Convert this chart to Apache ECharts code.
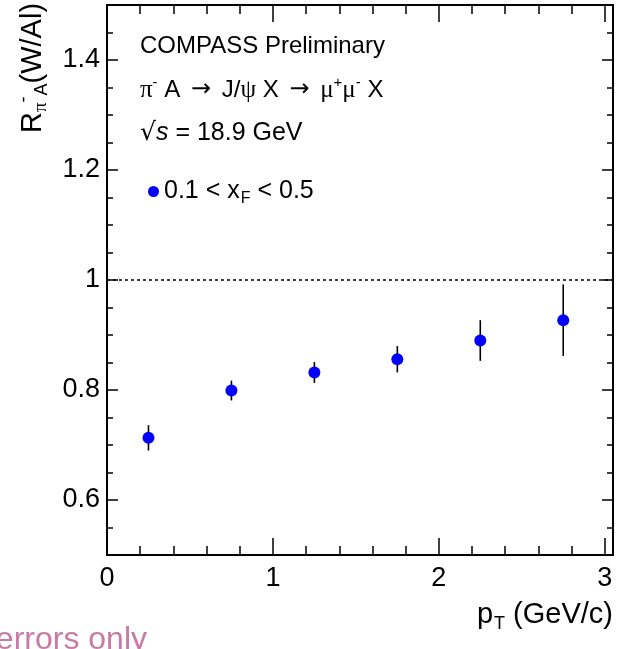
<!DOCTYPE html>
<html><head><meta charset="utf-8">
<script src="https://cdn.jsdelivr.net/npm/echarts@6/dist/echarts.min.js"></script>
<style>html,body{margin:0;padding:0;background:#fff}#c{width:619px;height:649px}</style>
</head><body><div id="c"></div>
<script>
// ---- data ----
const pT = [0.25, 0.75, 1.25, 1.75, 2.25, 2.75];
const ratio = [0.713, 0.799, 0.832, 0.856, 0.890, 0.927];
const statErr = [0.023, 0.018, 0.019, 0.024, 0.037, 0.065];
const xTickLabels = [0, 1, 2, 3];
const yTickLabels = [0.6, 0.8, 1, 1.2, 1.4];
const refLine = 1;
const seriesName = '0.1 < x_F < 0.5';

const FONT = '"Liberation Sans", Arial, Helvetica, sans-serif';
const SERIF = '"Liberation Serif", "DejaVu Serif", serif';
const DJ = '"DejaVu Sans", sans-serif';
const X_MIN = 0, X_MAX = 3.05, Y_MIN = 0.5, Y_MAX = 1.5;

function xAxis(pos, major, labels) {
  const a = {
    type: 'value', position: pos, min: X_MIN, max: X_MAX,
    axisLine: { show: true, onZero: false, lineStyle: { color: '#000', width: 2 } },
    axisTick: { show: true, inside: true, length: major ? 17 : 9, lineStyle: { color: '#000', width: 1.5 } },
    axisLabel: { show: labels, fontSize: 27, color: '#000', fontFamily: FONT, margin: 10 },
    splitLine: { show: false }
  };
  if (major) { a.axisTick.customValues = xTickLabels; a.axisLabel.customValues = xTickLabels; }
  else { a.interval = 0.2; }
  return a;
}
function yAxis(pos, major, labels) {
  const a = {
    type: 'value', position: pos, min: Y_MIN, max: Y_MAX,
    axisLine: { show: true, onZero: false, lineStyle: { color: '#000', width: 2 } },
    axisTick: { show: true, inside: true, length: major ? 11 : 6, lineStyle: { color: '#000', width: 1.5 } },
    axisLabel: { show: labels, fontSize: 27, color: '#000', fontFamily: FONT, margin: 7 },
    splitLine: { show: false }
  };
  if (major) { a.axisTick.customValues = yTickLabels; a.axisLabel.customValues = yTickLabels; }
  else { a.interval = 0.05; }
  return a;
}

function mkRich(size) {
  const lh = Math.round(size * 1.25);
  const s = Math.round(size * 0.62);
  return {
    m: { fontSize: size, lineHeight: lh, fontFamily: FONT, fill: '#000', color: '#000' },
    g: { fontSize: size + 1, lineHeight: lh, fontFamily: SERIF, fill: '#000', color: '#000' },
    ar: { fontSize: size, lineHeight: lh, fontFamily: DJ, fill: '#000', color: '#000', padding: [0, 4, 0, 4] },
    rt: { fontSize: size, lineHeight: lh, fontFamily: DJ, fill: '#000', color: '#000' },
    i: { fontSize: size, lineHeight: lh, fontFamily: FONT, fontStyle: 'italic', fill: '#000', color: '#000' },
    sup: { fontSize: s, lineHeight: s + 1, verticalAlign: 'top', fontFamily: FONT, fill: '#000', color: '#000' },
    sub: { fontSize: s, lineHeight: s + 1, verticalAlign: 'bottom', fontFamily: FONT, fill: '#000', color: '#000', padding: [0, 0, 0, 1] },
    subg: { fontSize: s + 1, lineHeight: s + 1, verticalAlign: 'bottom', fontFamily: SERIF, fill: '#000', color: '#000' }
  };
}
const rich24 = mkRich(24), rich25 = mkRich(25), rich29 = mkRich(29);

const chart = echarts.init(document.getElementById('c'), null, { renderer: 'canvas' });
chart.setOption({
  animation: false,
  backgroundColor: '#fff',
  grid: { left: 107, right: 6, top: 5, bottom: 94, containLabel: false },
  xAxis: [xAxis('bottom', true, true), xAxis('bottom', false, false), xAxis('top', true, false), xAxis('top', false, false)],
  yAxis: [yAxis('left', true, true), yAxis('left', false, false), yAxis('right', true, false), yAxis('right', false, false)],
  legend: {
    left: 148, top: 179, padding: 0, orient: 'vertical', itemWidth: 11, itemHeight: 11, itemGap: 0,
    icon: 'circle',
    data: [seriesName],
    formatter: () => '{m|0.1 < x}{sub|F}{m| < 0.5}',
    textStyle: { fontSize: 25, fontFamily: FONT, color: '#000', rich: rich25 }
  },
  series: [
    {
      type: 'custom', name: 'stat', xAxisIndex: 0, yAxisIndex: 0, z: 2,
      data: pT.map((x, k) => [x, ratio[k], statErr[k]]),
      encode: { x: 0, y: 1 },
      renderItem: function (params, api) {
        const x = api.value(0), y = api.value(1), e = api.value(2);
        const p1 = api.coord([x, y - e]), p2 = api.coord([x, y + e]);
        return { type: 'line', shape: { x1: p1[0], y1: p1[1], x2: p2[0], y2: p2[1] },
                 style: { stroke: '#000', lineWidth: 1.6 } };
      }
    },
    {
      type: 'scatter', name: seriesName, xAxisIndex: 0, yAxisIndex: 0, z: 3,
      symbol: 'circle', symbolSize: 12,
      itemStyle: { color: '#0000ff', opacity: 1 },
      data: pT.map((x, k) => [x, ratio[k]]),
      markLine: {
        silent: true, symbol: 'none', label: { show: false },
        lineStyle: { color: '#000', type: [3, 3], width: 1.5 },
        data: [{ yAxis: refLine }]
      }
    }
  ],
  graphic: [
    { type: 'text', x: 140, y: 46, z: 10, style: { text: 'COMPASS Preliminary', font: '24px ' + FONT, fill: '#000', verticalAlign: 'middle' } },
    { type: 'text', x: 140, y: 90, z: 10, style: {
        text: '{g|π}{sup|-}{m| A }{ar|→}{m| J/}{g|ψ}{m| X }{ar|→}{m| }{g|μ}{sup|+}{g|μ}{sup|-}{m| X}',
        verticalAlign: 'middle', rich: rich24 } },
    { type: 'text', x: 140, y: 133, z: 10, style: {
        text: '{rt|√}{i|s}{m| = 18.9 GeV}', verticalAlign: 'middle', rich: rich25 } },
    { type: 'text', x: 33, y: 133, rotation: Math.PI / 2, z: 10, style: {
        text: '{m|R}{subg|π}{sup|-}{sub|A}{m|(W/Al)}', align: 'left', verticalAlign: 'middle', rich: rich29 } },
    { type: 'text', x: 613, y: 615, z: 10, style: {
        text: '{m|p}{sub|T}{m| (GeV/c)}', align: 'right', verticalAlign: 'middle', rich: rich29 } },
    { type: 'text', x: 147, y: 640, z: 10, style: {
        text: 'errors only', font: '32px ' + FONT, fill: '#c97aa6', align: 'right', verticalAlign: 'middle' } }
  ]
});
</script></body></html>
